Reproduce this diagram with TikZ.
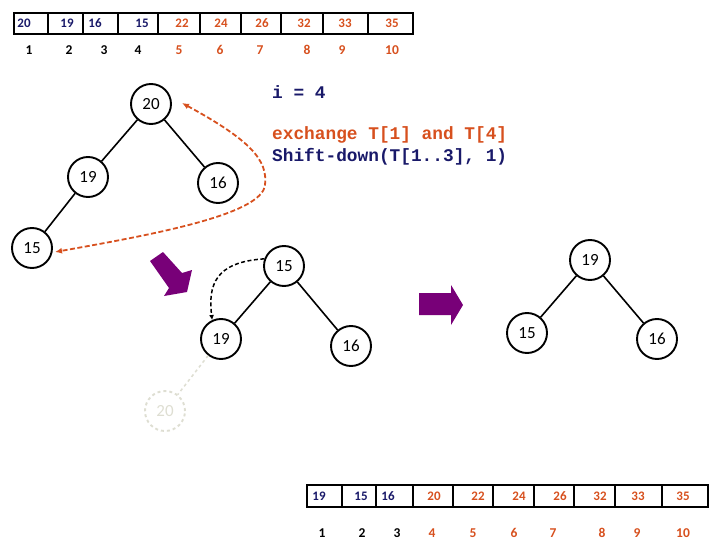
\documentclass[tikz,border=0pt]{standalone}
\usepackage{fontspec}
\setmainfont{Carlito}
\newfontfamily\codefont{Liberation Mono}
\usetikzlibrary{arrows.meta}
\definecolor{navy}{RGB}{25,25,105}
\definecolor{orng}{RGB}{215,80,30}
\definecolor{purp}{RGB}{120,0,120}
\definecolor{faded}{RGB}{222,222,210}
\begin{document}
\begin{tikzpicture}[x=1pt,y=-1pt,
  treenode/.style={circle,draw=black,line width=1.9pt,minimum size=40pt,inner sep=0pt,font=\fontsize{17}{19}\selectfont},
  fadednode/.style={treenode,draw=faded,dashed,text=faded},
  edge/.style={line width=1.6pt},
  cell/.style={draw=black,line width=2.5pt},
  val/.style={font=\bfseries\fontsize{13}{15}\selectfont,anchor=base,inner sep=0pt},
  idx/.style={font=\bfseries\fontsize{13.5}{15}\selectfont,anchor=base,inner sep=0pt},
  code/.style={font=\codefont\bfseries\fontsize{17.8}{20}\selectfont,anchor=west,inner sep=0pt},
  blockarrow/.style={fill=purp,draw=none}]
\useasboundingbox (0,0) rectangle (720,540);

% top array
\draw[cell] (14,13) rectangle (413,34);
\foreach \x in {48,83,118,158,200,241,281,323,368} \draw[cell] (\x,13) -- (\x,34);
\foreach \x/\v/\c [count=\i] in {24/20/navy,67/19/navy,95/16/navy,142/15/navy,182/22/orng,221/24/orng,262/26/orng,304/32/orng,345/33/orng,392/35/orng}
  \node[val,text=\c] (tv\i) at (\x,27.5) {\v};
\foreach \x/\c [count=\i] in {29/black,69/black,104/black,138/black,179/orng,220/orng,260/orng,307/orng,342/orng,392/orng}
  \node[idx,text=\c] (ti\i) at (\x,54.5) {\i};

% bottom array
\draw[cell] (307,485) rectangle (708,507);
\foreach \x in {342,376,413,453,493,534,574,615,662} \draw[cell] (\x,485) -- (\x,507);
\foreach \x/\v/\c [count=\i] in {319/19/navy,361/15/navy,388/16/navy,434/20/orng,478/22/orng,519/24/orng,560/26/orng,600/32/orng,638/33/orng,683/35/orng}
  \node[val,text=\c] (bv\i) at (\x,500.5) {\v};
\foreach \x/\c [count=\i] in {322/black,362/black,397/black,432/orng,473/orng,514/orng,553/orng,602/orng,637/orng,683/orng}
  \node[idx,text=\c] (bi\i) at (\x,537.5) {\i};

% code text
\node[code,text=navy] (ieq) at (272,92) {i = 4};
\node[code,text=orng] (exch) at (272,135) {exchange T[1] and T[4]};
\node[code,text=navy] (shift) at (272,157) {Shift-down(T[1..3], 1)};

% tree 1
\node[treenode] (a20) at (151,104) {20};
\node[treenode] (a19) at (88,177) {19};
\node[treenode] (a16) at (218,183) {16};
\node[treenode] (a15) at (32,248) {15};
\draw[edge] (a20) -- (a19);
\draw[edge] (a20) -- (a16);
\draw[edge] (a19) -- (a15);
\coordinate (o1) at (182,103);
\coordinate (o2) at (55,252);
\draw[orng,dash pattern=on 5pt off 2.5pt,line width=1.8pt,{Latex[length=7pt,width=6pt]}-{Latex[length=7pt,width=6pt]}]
  (o1) .. controls (250,140) and (268,160) .. (265,185) .. controls (262,215) and (150,235) .. (o2);

% tree 2
\node[treenode] (b15) at (284,266) {15};
\node[treenode] (b19) at (221,339) {19};
\node[treenode] (b16) at (351,346) {16};
\node[fadednode] (b20) at (165,411) {20};
\draw[edge] (b15) -- (b19);
\draw[edge] (b15) -- (b16);
\draw[faded,dashed,line width=1.5pt] (b19) -- (b20);
\draw[dash pattern=on 4pt off 2.5pt,line width=1.5pt,-{Latex[length=5pt,width=5pt]}]
  (b15.160) .. controls (215,262) and (208,285) .. (b19.115);

% tree 3
\node[treenode] (c19) at (590,260) {19};
\node[treenode] (c15) at (527,333) {15};
\node[treenode] (c16) at (657,339) {16};
\draw[edge] (c19) -- (c15);
\draw[edge] (c19) -- (c16);

% purple block arrows
\fill[blockarrow] (150,261) -- (163,252) -- (182,273) -- (192,270) -- (187,292) -- (164,296) -- (169,288) -- cycle;
\fill[blockarrow] (419,293) -- (451,293) -- (451,285) -- (463,305) -- (451,325) -- (451,315) -- (419,315) -- cycle;
\end{tikzpicture}
\end{document}
